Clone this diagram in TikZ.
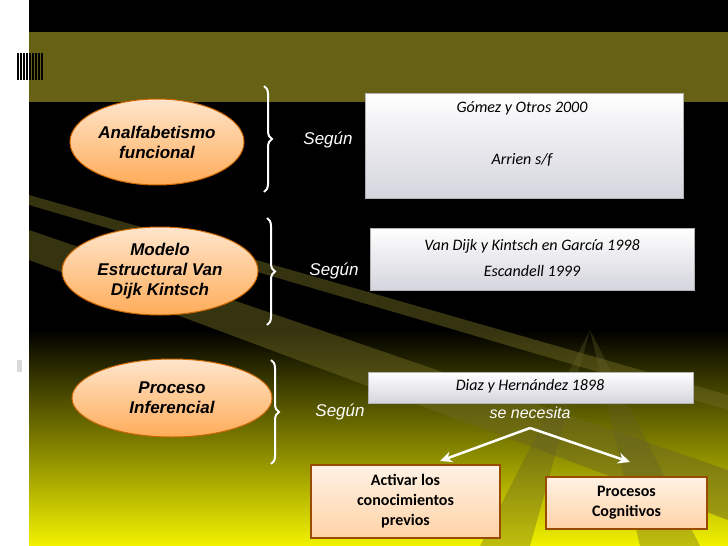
\documentclass[tikz,border=0pt]{standalone}
\usepackage{fontspec}
\setmainfont{Liberation Sans}
\newfontfamily\carfont{Carlito}
\usetikzlibrary{shapes.geometric,decorations.pathreplacing,arrows.meta}
\begin{document}
\begin{tikzpicture}[x=1pt,y=-1pt,
 oval/.style={ellipse,draw=orange!80!black,line width=1pt,top color=orange!20,bottom color=orange!65,align=center,font=\bfseries\itshape\fontsize{17}{20}\selectfont,text=black,inner sep=0pt},
 bbox/.style={draw=gray!60,line width=1pt,top color=white,bottom color=blue!12!gray!30,inner sep=0pt},
 obox/.style={draw=orange!60!black,line width=1.5pt,top color=orange!10,bottom color=orange!35,align=center,font=\carfont\bfseries\fontsize{16}{20}\selectfont,inner sep=0pt},
 br/.style={draw=white,line width=2pt,decorate,decoration={brace,amplitude=8pt}},
 seg/.style={text=white,font=\itshape\fontsize{17}{20}\selectfont},
 bt/.style={font=\carfont\itshape\fontsize{16}{20}\selectfont},
 arr/.style={draw=white,line width=2.5pt,-{Stealth[length=12pt,width=11pt]}}]
\useasboundingbox (0,0) rectangle (728,546);
\fill[white] (0,0) rectangle (728,546);
\fill[black] (29,0) rectangle (728,546);
\shade[top color=black,bottom color=yellow!90!olive] (29,330) rectangle (728,546);
\fill[olive!80!black,opacity=0.85] (29,32) rectangle (728,102);
\fill[olive!70!black,opacity=0.5] (29,195) -- (728,395) -- (728,410) -- (29,205) -- cycle;
\fill[olive!70!black,opacity=0.5] (29,230) -- (728,470) -- (728,520) -- (29,260) -- cycle;
\fill[olive!60!black,opacity=0.35] (590,330) -- (480,546) -- (530,546) -- cycle;
\fill[olive!60!black,opacity=0.35] (590,330) -- (640,546) -- (700,546) -- cycle;
\foreach \i in {0,...,8}{\fill[black] (17+\i*3,53) rectangle ++(1.6,27);}
\fill[gray!30] (17,360) rectangle (22,372);
\node[oval,minimum width=174,minimum height=86] (e1) at (157,142) {Analfabetismo\\funcional};
\node[oval,minimum width=196,minimum height=88] (e2) at (160,271) {Modelo\\Estructural Van\\Dijk Kintsch};
\node[oval,minimum width=200,minimum height=78] (e3) at (172,398) {Proceso\\Inferencial};
\coordinate (b1t) at (264,86); \coordinate (b1b) at (264,192);
\coordinate (b2t) at (267,218); \coordinate (b2b) at (267,325);
\coordinate (b3t) at (271,360); \coordinate (b3b) at (271,464);
\draw[br] (b1t) -- (b1b);
\draw[br] (b2t) -- (b2b);
\draw[br] (b3t) -- (b3b);
\node[seg] (s1) at (328,140) {Según};
\node[seg] (s2) at (334,271) {Según};
\node[seg] (s3) at (340,412) {Según};
\node[bbox,minimum width=318,minimum height=105] (x1) at (524,145.5) {};
\node[bt] (t1a) at (522,108) {Gómez y Otros 2000};
\node[bt] (t1b) at (522,160) {Arrien s/f};
\node[bbox,minimum width=324,minimum height=62] (x2) at (532,259) {};
\node[bt,align=center,font=\carfont\itshape\fontsize{16}{25}\selectfont] (t2) at (532,258) {Van Dijk y Kintsch en García 1998\\Escandell 1999};
\node[bbox,minimum width=325,minimum height=31] (x3) at (530.5,387.5) {};
\node[bt] (t3) at (530,386) {Diaz y Hernández 1898};
\node[text=white,font=\itshape\fontsize{16}{18}\selectfont] (nec) at (530,413) {se necesita};
\node[obox,minimum width=189,minimum height=73] (a1) at (405.5,501.5) {Activar los\\conocimientos\\previos};
\node[obox,minimum width=161,minimum height=52] (a2) at (626.5,503) {Procesos\\Cognitivos};
\coordinate (split) at (530,428);
\draw[arr] (split) -- (440,461);
\draw[arr] (split) -- (630,462);
\end{tikzpicture}
\end{document}
